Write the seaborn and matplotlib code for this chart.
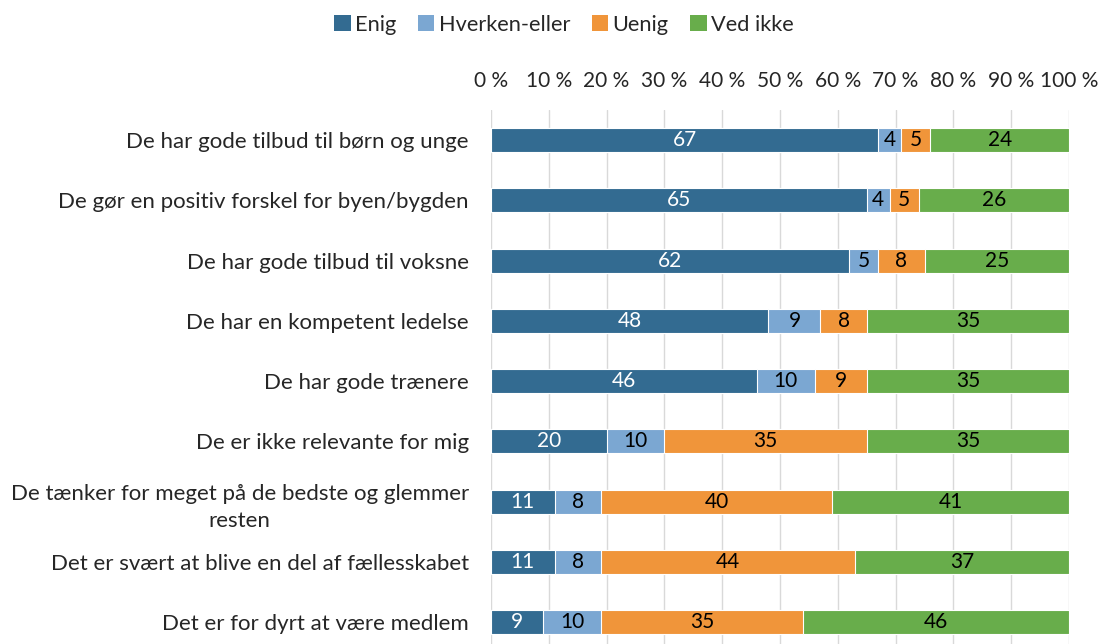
import matplotlib
matplotlib.use("Agg")
import matplotlib.pyplot as plt
import seaborn as sns
import numpy as np
import pandas as pd
from matplotlib.patches import Patch

categories = [
    "De har gode tilbud til børn og unge",
    "De gør en positiv forskel for byen/bygden",
    "De har gode tilbud til voksne",
    "De har en kompetent ledelse",
    "De har gode trænere",
    "De er ikke relevante for mig",
    "De tænker for meget på de bedste og glemmer\nresten",
    "Det er svært at blive en del af fællesskabet",
    "Det er for dyrt at være medlem",
]
series_names = ["Enig", "Hverken-eller", "Uenig", "Ved ikke"]
enig = [67, 65, 62, 48, 46, 20, 11, 11, 9]
hverken = [4, 4, 5, 9, 10, 10, 8, 8, 10]
uenig = [5, 5, 8, 8, 9, 35, 40, 44, 35]
ved_ikke = [24, 26, 25, 35, 35, 35, 41, 37, 46]
tick_values = [0, 10, 20, 30, 40, 50, 60, 70, 80, 90, 100]
tick_labels = [f"{v} %" for v in tick_values]

colors = ["#336b91", "#7ba7d2", "#f0953a", "#68ad4b"]
text_colors = ["white", "black", "black", "black"]

sns.set_theme(style="white")
plt.rcParams["font.family"] = ["Lato", "DejaVu Sans"]
FS = 15

fig = plt.figure(figsize=(11, 6.44), dpi=100)
top_px = 110
unit = 60.25
h_px = 9 * unit
ax = fig.add_axes([491 / 1100, (644 - top_px - h_px) / 644, 578 / 1100, h_px / 644])

values = [enig, hverken, uenig, ved_ikke]
cum = np.cumsum(np.array(values), axis=0)
for i in range(len(values) - 1, -1, -1):
    df = pd.DataFrame({"cat": categories, "val": cum[i]})
    sns.barplot(data=df, x="val", y="cat", orient="h", color=colors[i],
                width=0.4, edgecolor="white", linewidth=0.8, ax=ax,
                saturation=1, zorder=3)

for i, vals in enumerate(values):
    starts = cum[i] - np.array(vals)
    for j, v in enumerate(vals):
        ax.text(starts[j] + v / 2, j, str(v), ha="center", va="center",
                color=text_colors[i], fontsize=FS, zorder=5)

ax.set_xlim(0, 100)
ax.set_ylim(8.5, -0.5)
ax.xaxis.tick_top()
ax.set_xticks(tick_values)
ax.set_xticklabels(tick_labels, fontsize=FS)
ax.tick_params(axis="x", length=0, pad=14)
ax.tick_params(axis="y", length=0, pad=16, labelsize=16)
for lbl in ax.get_yticklabels():
    lbl.set_horizontalalignment("right")
    lbl.set_multialignment("center")
    lbl.set_linespacing(1.45)
ax.set_xlabel("")
ax.set_ylabel("")
ax.grid(axis="x", color="#d9d9d9", linewidth=1, zorder=0)
ax.set_axisbelow(True)
for s in ax.spines.values():
    s.set_visible(False)

handles = [Patch(facecolor=c, edgecolor="none") for c in colors]
fig.legend(handles, series_names, loc="center", bbox_to_anchor=(564 / 1100, 1 - 25 / 644),
           ncol=4, frameon=False, fontsize=15.7, handlelength=0.75, handleheight=0.75,
           handletextpad=0.2, columnspacing=1.0)

fig.savefig("out.png", dpi=100)
